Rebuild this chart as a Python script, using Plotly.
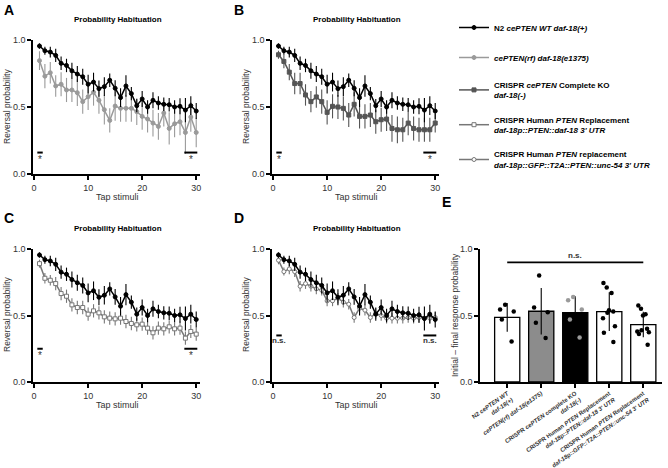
import plotly.graph_objects as go
import numpy as np

taps = list(range(1, 31))

n2_mean = [0.955, 0.92, 0.91, 0.885, 0.826, 0.81, 0.77, 0.746, 0.726, 0.67,
           0.686, 0.637, 0.652, 0.70, 0.64, 0.57, 0.657, 0.60, 0.51, 0.56,
           0.50, 0.55, 0.53, 0.52, 0.517, 0.50, 0.505, 0.477, 0.51, 0.47]
n2_err = [0.02, 0.03, 0.04, 0.05, 0.05, 0.05, 0.06, 0.06, 0.06, 0.07,
          0.07, 0.06, 0.07, 0.05, 0.06, 0.07, 0.08, 0.05, 0.05, 0.06,
          0.05, 0.06, 0.05, 0.05, 0.05, 0.05, 0.06, 0.09, 0.07, 0.06]

rf_mean = [0.846, 0.73, 0.756, 0.657, 0.67, 0.627, 0.627, 0.607, 0.54, 0.577,
           0.61, 0.55, 0.48, 0.40, 0.507, 0.49, 0.49, 0.49, 0.465, 0.43,
           0.41, 0.38, 0.355, 0.455, 0.34, 0.375, 0.39, 0.31, 0.425, 0.31]
rf_err = [0.07, 0.09, 0.08, 0.08, 0.09, 0.09, 0.09, 0.10, 0.09, 0.10,
          0.10, 0.10, 0.11, 0.09, 0.11, 0.10, 0.10, 0.10, 0.10, 0.10,
          0.10, 0.10, 0.10, 0.10, 0.12, 0.10, 0.10, 0.16, 0.11, 0.11]

ko_mean = [0.89, 0.84, 0.76, 0.675, 0.675, 0.59, 0.54, 0.575, 0.54, 0.46,
           0.505, 0.50, 0.49, 0.44, 0.52, 0.43, 0.43, 0.44, 0.39, 0.405,
           0.41, 0.34, 0.33, 0.33, 0.38, 0.34, 0.33, 0.33, 0.33, 0.38]
ko_err = [0.03, 0.05, 0.06, 0.08, 0.08, 0.08, 0.08, 0.08, 0.09, 0.09,
          0.09, 0.09, 0.09, 0.09, 0.09, 0.09, 0.09, 0.09, 0.09, 0.09,
          0.09, 0.10, 0.10, 0.09, 0.09, 0.09, 0.09, 0.09, 0.09, 0.07]

hr_mean = [0.89, 0.78, 0.765, 0.74, 0.665, 0.645, 0.58, 0.56, 0.56, 0.51,
           0.535, 0.52, 0.49, 0.48, 0.475, 0.48, 0.455, 0.44, 0.43, 0.435,
           0.405, 0.37, 0.405, 0.40, 0.415, 0.40, 0.405, 0.33, 0.38, 0.36]
hr_err = [0.03, 0.04, 0.04, 0.05, 0.05, 0.05, 0.05, 0.05, 0.05, 0.05,
          0.05, 0.05, 0.05, 0.05, 0.05, 0.05, 0.05, 0.05, 0.05, 0.05,
          0.05, 0.05, 0.05, 0.05, 0.05, 0.05, 0.05, 0.05, 0.05, 0.05]

gfp_mean = [0.915, 0.83, 0.85, 0.83, 0.72, 0.74, 0.72, 0.70, 0.69, 0.61,
            0.61, 0.63, 0.60, 0.585, 0.485, 0.555, 0.54, 0.485, 0.515, 0.50,
            0.48, 0.48, 0.48, 0.48, 0.485, 0.48, 0.485, 0.48, 0.48, 0.485]
gfp_err = [0.03, 0.03, 0.04, 0.04, 0.04, 0.04, 0.04, 0.04, 0.04, 0.04,
           0.04, 0.04, 0.04, 0.04, 0.04, 0.04, 0.04, 0.04, 0.04, 0.04,
           0.04, 0.04, 0.04, 0.04, 0.04, 0.04, 0.04, 0.04, 0.04, 0.04]

# Panel E: per-plate initial - final differences
e_groups = [
    [0.58, 0.53, 0.545, 0.47, 0.305],
    [0.80, 0.56, 0.525, 0.445, 0.33],
    [0.64, 0.615, 0.545, 0.47, 0.335],
    [0.745, 0.71, 0.67, 0.54, 0.53, 0.52, 0.48, 0.42, 0.37, 0.30],
    [0.575, 0.55, 0.51, 0.50, 0.40, 0.39, 0.38, 0.375, 0.36, 0.28],
]
e_labels = [
    "<b>N2 <i>cePTEN WT</i><br><i>daf-18(+)</i></b>",
    "<b><i>cePTEN(rf) daf-18(e1375)</i></b>",
    "<b>CRISPR <i>cePTEN</i> complete KO<br><i>daf-18(-)</i></b>",
    "<b>CRISPR Human <i>PTEN</i> Replacement<br><i>daf-18p::PTEN::daf-18 3' UTR</i></b>",
    "<b>CRISPR Human <i>PTEN</i> Replacement<br><i>daf-18p::GFP::T2A::PTEN::unc-54 3' UTR</i></b>",
]

names = {
    "n2": "<b>N2 <i>cePTEN WT daf-18(+)</i></b>",
    "rf": "<b><i>cePTEN(rf) daf-18(e1375)</i></b>",
    "ko": "<b>CRISPR <i>cePTEN</i> Complete KO<br><i>daf-18(-)</i></b>",
    "hr": "<b>CRISPR Human <i>PTEN</i> Replacement<br><i>daf-18p::PTEN::daf-18 3' UTR</i></b>",
    "gfp": "<b>CRISPR Human <i>PTEN</i> replacement<br><i>daf-18p::GFP::T2A::PTEN::unc-54 3' UTR</i></b>",
}

FONT = "Liberation Sans, Arial, sans-serif"
BLACK = "#000000"
LGRAY = "#9a9a9a"
DGRAY = "#555555"
OGRAY = "#777777"
TXT = "#333333"

styles = {
    "n2": dict(color=BLACK, symbol="circle", fill=BLACK, rank=1),
    "rf": dict(color=LGRAY, symbol="circle", fill=LGRAY, rank=2),
    "ko": dict(color=DGRAY, symbol="square", fill=DGRAY, rank=3),
    "hr": dict(color=OGRAY, symbol="square", fill="white", rank=4),
    "gfp": dict(color=OGRAY, symbol="circle", fill="white", rank=5),
}
series = {
    "n2": (n2_mean, n2_err), "rf": (rf_mean, rf_err), "ko": (ko_mean, ko_err),
    "hr": (hr_mean, hr_err), "gfp": (gfp_mean, gfp_err),
}

fig = go.Figure()
shown = set()


def add_series(key, xa, ya):
    st = styles[key]
    m, e = series[key]
    fig.add_trace(go.Scatter(
        x=taps, y=m, mode="lines+markers",
        name=names[key], legendgroup=key, legendrank=st["rank"],
        showlegend=key not in shown,
        line=dict(color=st["color"], width=1.5),
        marker=dict(symbol=st["symbol"], size=4, color=st["fill"],
                    line=dict(color=st["color"], width=1)),
        error_y=dict(type="data", array=e, color=st["color"], thickness=1.1, width=0),
        xaxis=xa, yaxis=ya,
    ))
    shown.add(key)


panels = [("x", "y", "rf"), ("x2", "y2", "ko"), ("x3", "y3", "hr"), ("x4", "y4", "gfp")]
for xa, ya, key in panels:
    add_series(key, xa, ya)
    add_series("n2", xa, ya)

# Panel E
means = [float(np.mean(g)) for g in e_groups]
sds = [float(np.std(g, ddof=1)) for g in e_groups]
fig.add_trace(go.Bar(
    x=list(range(5)), y=means, width=0.74,
    marker=dict(color=["white", "#8c8c8c", "black", "white", "white"],
                line=dict(color="black", width=1.3)),
    error_y=dict(type="data", array=sds, color="black", thickness=1.1, width=0),
    showlegend=False, xaxis="x5", yaxis="y5",
))
for i, g in enumerate(e_groups):
    fig.add_trace(go.Box(
        x=[i] * len(g), y=g, boxpoints="all", jitter=0.9, pointpos=0, width=0.55,
        fillcolor="rgba(0,0,0,0)", line=dict(width=0, color="rgba(0,0,0,0)"),
        marker=dict(color=LGRAY if i == 2 else "black", size=4.5),
        showlegend=False, xaxis="x5", yaxis="y5",
    ))

H, W = 468, 668


def px_x(a, b):
    return [a / W, b / W]


def px_y(top, bottom):
    return [1 - bottom / H, 1 - top / H]


axis_common = dict(showline=True, linecolor="black", linewidth=1.5, ticks="outside",
                   ticklen=4, tickwidth=1.5, tickcolor="black", showgrid=False,
                   zeroline=False, automargin=False,
                   tickfont=dict(size=9, color=TXT, family=FONT))

xline = dict(axis_common, range=[-0.2, 30.7], tickvals=[0, 10, 20, 30])
yline = dict(axis_common, range=[0, 1.0], tickvals=[0, 0.5, 1.0], tickformat=".1f")

fig.update_layout(
    template="none",
    width=W, height=H, margin=dict(l=0, r=0, t=0, b=0, pad=0),
    paper_bgcolor="white", plot_bgcolor="white",
    font=dict(family=FONT, color="black"),
    boxmode="overlay",
    xaxis=dict(xline, domain=px_x(33, 200), anchor="y"),
    yaxis=dict(yline, domain=px_y(40, 174), anchor="x"),
    xaxis2=dict(xline, domain=px_x(272, 439), anchor="y2"),
    yaxis2=dict(yline, domain=px_y(40, 174), anchor="x2"),
    xaxis3=dict(xline, domain=px_x(33, 200), anchor="y3"),
    yaxis3=dict(yline, domain=px_y(249, 382), anchor="x3"),
    xaxis4=dict(xline, domain=px_x(272, 439), anchor="y4"),
    yaxis4=dict(yline, domain=px_y(249, 382), anchor="x4"),
    xaxis5=dict(axis_common, domain=px_x(480, 662), anchor="y5", range=[-0.8, 4.55],
                tickvals=list(range(5)), ticktext=e_labels, tickangle=-35,
                tickfont=dict(size=6, color=TXT, family=FONT)),
    yaxis5=dict(axis_common, domain=px_y(249, 382), anchor="x5", range=[0, 1.0],
                tickvals=[0, 0.5, 1.0], tickformat=".1f"),
    legend=dict(x=454 / W, y=1 - 13 / H, xanchor="left", yanchor="top",
                font=dict(size=8, family=FONT, color="black"),
                tracegroupgap=11, itemwidth=30, bgcolor="rgba(0,0,0,0)"),
)


def paper_text(text, cx, cy, size, angle=0, color="black"):
    fig.add_annotation(x=cx / W, y=1 - cy / H, xref="paper", yref="paper",
                       xanchor="center", yanchor="middle", textangle=angle,
                       text=text, showarrow=False, font=dict(size=size, color=color))


# Panel titles, letters and axis titles
for cx, cy in [(118, 20), (357, 20), (118, 228), (357, 228)]:
    paper_text("<b>Probability Habituation</b>", cx, cy, 8)
for lbl, lx, ly in [("A", 9, 10), ("B", 239, 10), ("C", 9, 218), ("D", 239, 218), ("E", 446, 202)]:
    paper_text("<b>%s</b>" % lbl, lx, ly, 14)
for cx, cy in [(117, 197), (356, 197), (117, 405), (356, 405)]:
    paper_text("Tap stimuli", cx, cy, 9, color=TXT)
for cx, cy in [(7, 107), (246, 107), (7, 315), (246, 315)]:
    paper_text("Reversal probability", cx, cy, 8.5, angle=-90, color=TXT)
paper_text("Initial \u2013 final response probability", 455, 315, 8.5, angle=-90, color=TXT)

# Significance markers
sig = [("x", "y", 0.16, "*"), ("x2", "y2", 0.16, "*"), ("x3", "y3", 0.25, "*"), ("x4", "y4", 0.35, "n.s.")]
for xa, ya, yv, txt in sig:
    for x0, x1 in [(0.6, 1.6), (27.8, 30.2)]:
        fig.add_shape(type="line", x0=x0, x1=x1, y0=yv, y1=yv, xref=xa, yref=ya,
                      line=dict(color="black", width=2))
        fig.add_annotation(x=(x0 + x1) / 2, y=yv, xref=xa, yref=ya,
                           text=txt if txt == "*" else "<b>n.s.</b>",
                           showarrow=False, yanchor="top", yshift=1,
                           font=dict(size=10 if txt == "*" else 8, color=TXT))

fig.add_shape(type="line", x0=0, x1=4, y0=0.9, y1=0.9, xref="x5", yref="y5",
              line=dict(color="black", width=1.8))
fig.add_annotation(x=2, y=0.9, xref="x5", yref="y5", text="<b>n.s.</b>", showarrow=False,
                   yanchor="bottom", yshift=0, font=dict(size=8, color=TXT))

fig.write_html("out.html", config={"displayModeBar": False},
               post_script="document.body.style.margin='0';document.body.style.padding='0';"
                           "document.body.style.overflow='hidden';")
